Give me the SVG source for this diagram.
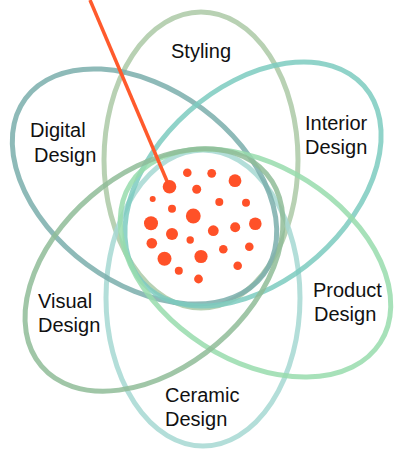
<svg xmlns="http://www.w3.org/2000/svg" width="397" height="451" viewBox="0 0 397 451">
<style>
.ring{fill:none;stroke-width:5;stroke-opacity:0.85}
.lbl{font-family:"Liberation Sans",Arial,sans-serif;font-size:20px;fill:#111}
.dot{fill:#ff5128}
</style>
<rect width="397" height="451" fill="#fff"/>
<g id="connectors">
<ellipse id="ring-styling" class="ring" cx="201" cy="160" rx="97" ry="148" stroke="#abc9a6"/>
<ellipse id="ring-ceramic" class="ring" cx="203" cy="298" rx="97" ry="148" stroke="#a6d8d2"/>
<ellipse id="ring-digital" class="ring" cx="144.5" cy="186.5" rx="148" ry="97" transform="rotate(36.5 144.5 186.5)" stroke="#7aaeab"/>
<ellipse id="ring-interior" class="ring" cx="253" cy="184" rx="148" ry="97" transform="rotate(-41.5 253 184)" stroke="#7ccbc0"/>
<ellipse id="ring-product" class="ring" cx="255.5" cy="263" rx="148" ry="97" transform="rotate(32.5 255.5 263)" stroke="#98dcad"/>
<ellipse id="ring-visual" class="ring" cx="154" cy="270" rx="148" ry="97" transform="rotate(-40.5 154 270)" stroke="#8fbc98"/>
<line x1="90" y1="0" x2="169.5" y2="187" stroke="#ff5a2c" stroke-width="3.5"/>
</g>
<g id="dots">
<circle class="dot" cx="169.5" cy="186.7" r="6.8"/>
<circle class="dot" cx="187.3" cy="172.7" r="4.3"/>
<circle class="dot" cx="211.7" cy="173.3" r="4.4"/>
<circle class="dot" cx="235" cy="180.7" r="6.4"/>
<circle class="dot" cx="196.7" cy="189.3" r="4.5"/>
<circle class="dot" cx="152.7" cy="199" r="3"/>
<circle class="dot" cx="219.3" cy="202" r="4"/>
<circle class="dot" cx="246" cy="202.7" r="4"/>
<circle class="dot" cx="172" cy="208.7" r="4"/>
<circle class="dot" cx="193.3" cy="216" r="7.4"/>
<circle class="dot" cx="151" cy="223.3" r="7"/>
<circle class="dot" cx="255.3" cy="223.7" r="6.3"/>
<circle class="dot" cx="235.2" cy="227.3" r="5"/>
<circle class="dot" cx="213.3" cy="230.7" r="5.4"/>
<circle class="dot" cx="172" cy="234" r="6"/>
<circle class="dot" cx="190.2" cy="240" r="3.7"/>
<circle class="dot" cx="151.8" cy="243.3" r="5.3"/>
<circle class="dot" cx="223.3" cy="249.3" r="4.3"/>
<circle class="dot" cx="249.3" cy="246.7" r="4.3"/>
<circle class="dot" cx="164.5" cy="258.7" r="7"/>
<circle class="dot" cx="201" cy="256.5" r="6.6"/>
<circle class="dot" cx="237.7" cy="265.7" r="4.3"/>
<circle class="dot" cx="178.8" cy="270.8" r="4"/>
<circle class="dot" cx="198.5" cy="279" r="4.4"/>
</g>
<g id="styling"><text class="lbl" x="171" y="58.3">Styling</text></g>
<g id="digital-design"><text class="lbl" x="30" y="137.3">Digital</text><text class="lbl" x="34" y="161.5">Design</text></g>
<g id="interior-design"><text class="lbl" x="305" y="130">Interior</text><text class="lbl" x="305" y="153.5">Design</text></g>
<g id="product-design"><text class="lbl" x="313" y="297.3">Product</text><text class="lbl" x="314" y="320.5">Design</text></g>
<g id="visual-design"><text class="lbl" x="38" y="307.7">Visual</text><text class="lbl" x="38" y="331.7">Design</text></g>
<g id="ceramic-design"><text class="lbl" x="165" y="402.3">Ceramic</text><text class="lbl" x="165" y="425.5">Design</text></g>
</svg>
